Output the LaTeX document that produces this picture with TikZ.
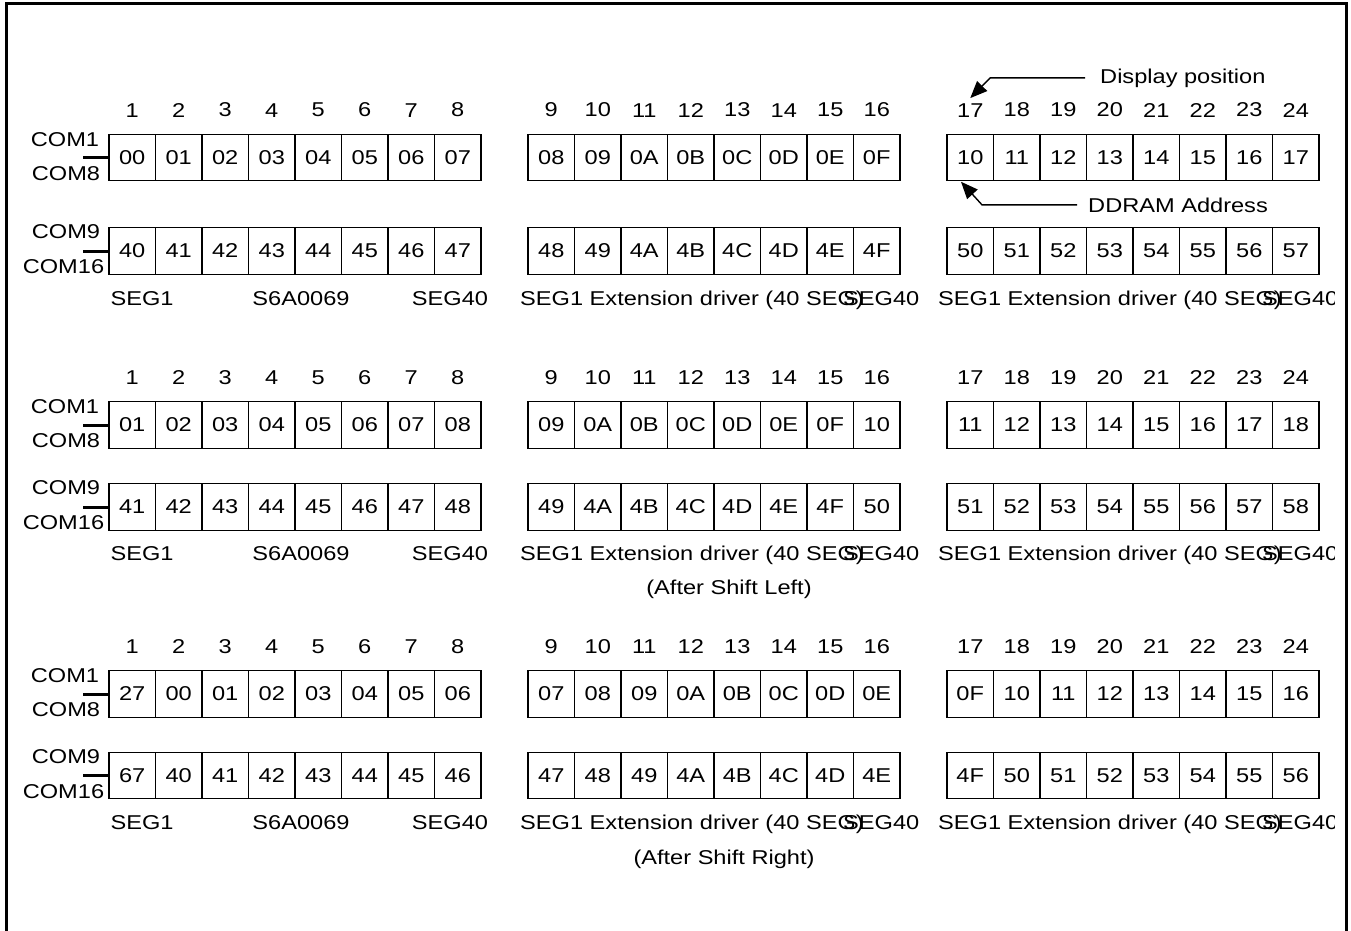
\documentclass[tikz,border=0pt]{standalone}
\usepackage{fontspec}
\setmainfont{Liberation Sans}[FakeStretch=1.18]
\usetikzlibrary{positioning,arrows.meta}
\tikzset{
  >={Triangle[length=17pt,width=14pt]},
  cell/.style={draw, line width=1.3pt, minimum width=46.5pt, minimum height=46.5pt,
    inner sep=0pt, outer sep=0pt},
  colno/.style={inner sep=0pt},
  lbl/.style={inner sep=0pt},
  tick/.style={line width=3pt},
  ptr/.style={->, line width=1.4pt},
}

% one row of 24 cells (three drivers): name, y of centre, values
\newcommand{\cellrow}[3]{%
  \foreach \v [count=\i] in {#3} {
    \pgfmathtruncatemacro{\blk}{(\i-1)/8}
    \pgfmathtruncatemacro{\col}{mod(\i-1,8)}
    \node[cell] (#1-\i) at ({132.25+419*\blk+46.5*\col}, #2) {\v};
  }%
}

\begin{document}
\begin{tikzpicture}[x=1pt, y=-1pt, font=\fontsize{20}{24}\selectfont]
  \useasboundingbox (0,0) rectangle (1351,930);
  \draw[line width=3.5pt] (6.5,945) -- (6.5,3.5) -- (1346.5,3.5) -- (1346.5,945);

  % normal
  \cellrow{r11}{157.5}{00,01,02,03,04,05,06,07,08,09,0A,0B,0C,0D,0E,0F,10,11,12,13,14,15,16,17}
  \cellrow{r12}{251}{40,41,42,43,44,45,46,47,48,49,4A,4B,4C,4D,4E,4F,50,51,52,53,54,55,56,57}
  % after shift left
  \cellrow{r21}{425}{01,02,03,04,05,06,07,08,09,0A,0B,0C,0D,0E,0F,10,11,12,13,14,15,16,17,18}
  \cellrow{r22}{507}{41,42,43,44,45,46,47,48,49,4A,4B,4C,4D,4E,4F,50,51,52,53,54,55,56,57,58}
  % after shift right
  \cellrow{r31}{694}{27,00,01,02,03,04,05,06,07,08,09,0A,0B,0C,0D,0E,0F,10,11,12,13,14,15,16}
  \cellrow{r32}{775.5}{67,40,41,42,43,44,45,46,47,48,49,4A,4B,4C,4D,4E,4F,50,51,52,53,54,55,56}

  \foreach \s in {1,2,3} {
    \foreach \n in {1,...,24}
      \node[colno, above=17pt of r\s1-\n] (n\s-\n) {\n};
    \coordinate[left=26pt of r\s1-1.west] (t\s1);
    \coordinate[left=26pt of r\s2-1.west] (t\s2);
    \draw[tick] (t\s1) -- (r\s1-1.west);
    \draw[tick] (t\s2) -- (r\s2-1.west);
    \node[lbl] (com\s a) at ([shift={(-18pt,18pt)}]t\s1) {COM1};
    \node[lbl] (com\s b) at ([shift={(-17pt,-16pt)}]t\s1) {COM8};
    \node[lbl] (com\s c) at ([shift={(-17pt,19pt)}]t\s2) {COM9};
    \node[lbl] (com\s d) at ([shift={(-19.5pt,-16pt)}]t\s2) {COM16};
  }

  \foreach \s/\y in {1/305, 2/560, 3/829} {
    \node[lbl, anchor=base] (seg\s a) at (142,\y) {SEG1};
    \node[lbl, anchor=base] (chip\s) at (301,\y) {S6A0069};
    \node[lbl, anchor=base] (seg\s b) at (450,\y) {SEG40};
    \node[lbl, anchor=base west] (ext\s a) at (520,\y) {SEG1 Extension driver (40 SEG)};
    \node[lbl, anchor=base west] (seg\s c) at (843,\y) {SEG40};
    \begin{scope}
      \clip (930,\y-30) rectangle (1334,\y+10);
      \node[lbl, anchor=base west] (ext\s b) at (938,\y) {SEG1 Extension driver (40 SEG)};
      \node[lbl, anchor=base west] (seg\s d) at (1262,\y) {SEG40};
    \end{scope}
  }

  \node[lbl, anchor=base] (left) at (729,594) {(After Shift Left)};
  \node[lbl, anchor=base] (right) at (724,864) {(After Shift Right)};

  \node[lbl, anchor=base west] (dp) at (1100,83) {Display position};
  \node[lbl, anchor=base west] (dd) at (1088,212) {DDRAM Address};
  \draw[ptr] ([xshift=-15pt]dp.west) -- ([xshift=20pt]n1-17.north |- dp.west)
    -- ([yshift=5pt]n1-17.north);
  \draw[ptr] ([xshift=-11pt]dd.west) -- ([xshift=35pt]r11-17.south west |- dd.west)
    -- ([xshift=14pt,yshift=-1pt]r11-17.south west);
\end{tikzpicture}
\end{document}
